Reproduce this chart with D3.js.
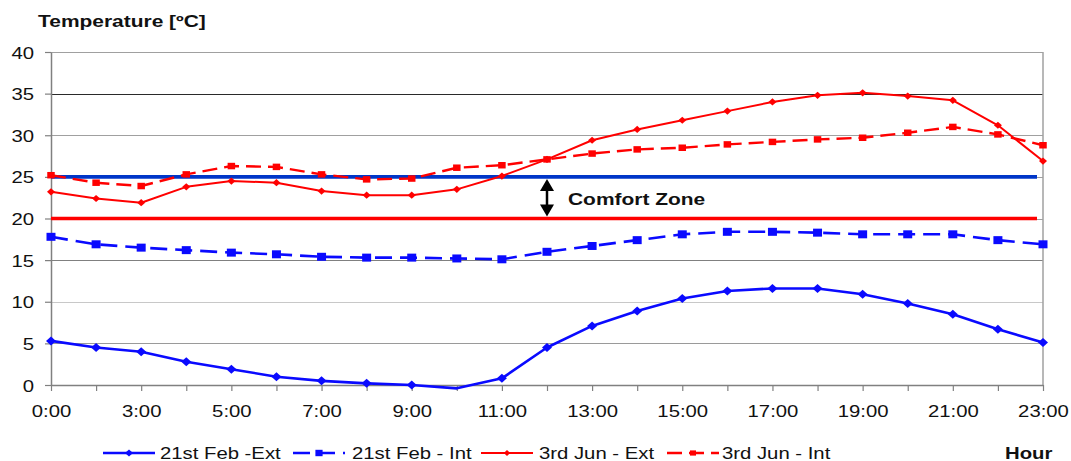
<!DOCTYPE html>
<html>
<head>
<meta charset="utf-8">
<script src="https://cdn.jsdelivr.net/npm/d3@7"></script>
<style>
  html, body { margin: 0; padding: 0; background: #fff; }
  svg { display: block; font-family: "Liberation Sans", Arial, sans-serif; }
</style>
</head>
<body>
<script>
// ---------- data ----------
const categories = ["0:00","2:00","3:00","4:00","5:00","6:00","7:00","8:00","9:00","10:00","11:00","12:00",
                    "13:00","14:00","15:00","16:00","17:00","18:00","19:00","20:00","21:00","22:00","23:00"];
const xTickLabels = ["0:00","3:00","5:00","7:00","9:00","11:00","13:00","15:00","17:00","19:00","21:00","23:00"];
const yTicks = [0,5,10,15,20,25,30,35,40];

const febExt = [5.3,4.5,4.0,2.8,1.9,1.0,0.5,0.2,0.0,-0.4,0.8,4.5,7.1,8.9,10.4,11.3,11.6,11.6,10.9,9.8,8.5,6.7,5.1];
const febInt = [17.8,16.9,16.5,16.2,15.9,15.7,15.4,15.3,15.3,15.2,15.1,16.0,16.7,17.4,18.1,18.4,18.4,18.3,18.1,18.1,18.1,17.4,16.9];
const junExt = [23.2,22.4,21.9,23.8,24.5,24.3,23.3,22.8,22.8,23.5,25.1,27.1,29.4,30.7,31.8,32.9,34.0,34.8,35.1,34.7,34.2,31.2,26.9];
const junInt = [25.2,24.3,23.9,25.3,26.3,26.2,25.3,24.7,24.8,26.1,26.4,27.1,27.8,28.3,28.5,28.9,29.2,29.5,29.7,30.3,31.0,30.1,28.8];

const comfortUpper = 25;
const comfortLower = 20;
const comfortArrowAt = "12:00";

const seriesNames = ["21st Feb -Ext","21st Feb - Int","3rd Jun - Ext","3rd Jun - Int"];

// ---------- layout ----------
const W = 1071, H = 461;
const pLeft = 51, pRight = 1043, pTop = 52, pBottom = 385;
const SX = 1.27; // horizontal stretch of the text in the reference

const svg = d3.select("body").append("svg").attr("width", W).attr("height", H);

const x = d3.scalePoint().domain(categories).range([pLeft, pRight]).padding(0);
const y = d3.scaleLinear().domain([0, 40]).range([pBottom, pTop]);

const styles = [
  {data: febExt, color: "#0a0aff", width: 2.6, dash: null,   marker: "diamond", mw: 5, mh: 4.5},
  {data: febInt, color: "#0a0aff", width: 2.6, dash: "17,8", marker: "square",  mw: 9, mh: 8},
  {data: junExt, color: "#ff0000", width: 2,   dash: null,   marker: "diamond", mw: 4, mh: 3.6},
  {data: junInt, color: "#ff0000", width: 2.4, dash: "15,7", marker: "square",  mw: 7.5, mh: 6.5}
];

function markerPath(type, w, h) {
  if (type === "diamond") return `M0,${-h}L${w},0L0,${h}L${-w},0Z`;
  return `M${-w/2},${-h/2}h${w}v${h}h${-w}Z`;
}

function stretchedText(sel, tx, ty) {
  sel.attr("transform", `translate(${tx},${ty}) scale(${SX},1)`);
}

// ---------- gridlines ----------
const gridColor = {5:"#9a9a9a",10:"#c8c8c8",15:"#808080",20:"#a0a0a0",25:"#a0a0a0",30:"#a0a0a0",35:"#2a2a2a",40:"#a0a0a0"};
svg.append("g").selectAll("line").data(yTicks.filter(v => v > 0)).join("line")
  .attr("x1", pLeft).attr("x2", pRight)
  .attr("y1", d => Math.round(y(d)) + 0.5).attr("y2", d => Math.round(y(d)) + 0.5)
  .attr("stroke", d => gridColor[d]).attr("stroke-width", 1.2);

// right border
svg.append("line").attr("x1", pRight).attr("x2", pRight).attr("y1", y(40)).attr("y2", y(0))
  .attr("stroke", "#a0a0a0").attr("stroke-width", 1.5);

// ---------- axes ----------
const yAxis = svg.append("g").attr("transform", `translate(${pLeft},0)`)
  .call(d3.axisLeft(y).tickValues(yTicks).tickSize(6).tickSizeOuter(0));
yAxis.select(".domain").attr("stroke", "#808080").attr("stroke-width", 1.5);
yAxis.selectAll(".tick line").attr("stroke", "#808080").attr("stroke-width", 1.2);
yAxis.selectAll(".tick text")
  .attr("x", null).attr("dy", null)
  .attr("font-size", 16).attr("fill", "#111").attr("text-anchor", "end")
  .each(function() { stretchedText(d3.select(this), -17, 6); });

const xAxis = svg.append("g").attr("transform", `translate(0,${pBottom})`)
  .call(d3.axisBottom(x).tickSize(6).tickSizeOuter(0)
    .tickFormat(d => xTickLabels.includes(d) ? d : ""));
xAxis.select(".domain").attr("stroke", "#808080").attr("stroke-width", 1.5);
xAxis.selectAll(".tick line").attr("stroke", "#808080").attr("stroke-width", 1.2);
xAxis.selectAll(".tick text")
  .attr("y", null).attr("dy", null)
  .attr("font-size", 16).attr("fill", "#111").attr("text-anchor", "middle")
  .each(function() { stretchedText(d3.select(this), 0, 32); });
svg.selectAll(".domain").attr("fill", "none");

// ---------- comfort zone ----------
const comfortEnd = x(categories[categories.length - 1]) - 6;
svg.append("line").attr("x1", pLeft).attr("x2", comfortEnd)
  .attr("y1", y(comfortUpper)).attr("y2", y(comfortUpper))
  .attr("stroke", "#0036c8").attr("stroke-width", 3.6);
svg.append("line").attr("x1", pLeft).attr("x2", comfortEnd)
  .attr("y1", y(comfortLower)).attr("y2", y(comfortLower))
  .attr("stroke", "#ff0000").attr("stroke-width", 3.6);

const ax = x(comfortArrowAt);
const aTop = y(comfortUpper) + 2, aBot = y(comfortLower) - 2;
const arrow = svg.append("g");
arrow.append("line").attr("x1", ax).attr("x2", ax).attr("y1", aTop + 8).attr("y2", aBot - 8)
  .attr("stroke", "#000").attr("stroke-width", 2.5);
arrow.append("path").attr("d", `M${ax},${aTop}L${ax+7},${aTop+12}L${ax-7},${aTop+12}Z`).attr("fill", "#000");
arrow.append("path").attr("d", `M${ax},${aBot}L${ax+7},${aBot-12}L${ax-7},${aBot-12}Z`).attr("fill", "#000");
svg.append("text").text("Comfort Zone")
  .attr("font-size", 16.5).attr("font-weight", "bold").attr("fill", "#111")
  .call(stretchedText, ax + 21, (y(comfortUpper) + y(comfortLower)) / 2 + 7);

// ---------- series ----------
const line = d3.line().x((d, i) => x(categories[i])).y(d => y(d));
styles.forEach(s => {
  svg.append("path").attr("d", line(s.data))
    .attr("fill", "none").attr("stroke", s.color).attr("stroke-width", s.width)
    .attr("stroke-dasharray", s.dash).attr("stroke-linejoin", "round");
  svg.append("g").selectAll("path").data(s.data.map((v, i) => ({v, i})).filter(d => d.v >= 0)).join("path")
    .attr("d", markerPath(s.marker, s.mw, s.mh))
    .attr("transform", d => `translate(${x(categories[d.i])},${y(d.v)})`)
    .attr("fill", s.color);
});

// ---------- titles ----------
svg.append("text").text("Temperature [ºC]")
  .attr("font-size", 16.5).attr("font-weight", "bold").attr("fill", "#111")
  .call(stretchedText, 38, 27);
svg.append("text").text("Hour")
  .attr("font-size", 16).attr("font-weight", "bold").attr("fill", "#111")
  .call(stretchedText, 1005, 459);

// ---------- legend ----------
const legendStart = [103, 293, 481, 667];
const legendText  = [160, 352, 539, 722];
const ly = 453;
styles.forEach((s, i) => {
  const g = svg.append("g");
  const x0 = legendStart[i], x1 = x0 + 52;
  g.append("line").attr("x1", x0).attr("x2", x1).attr("y1", ly).attr("y2", ly)
    .attr("stroke", s.color).attr("stroke-width", s.width).attr("stroke-dasharray", s.dash);
  g.append("path").attr("d", markerPath(s.marker, s.mw * 0.8, s.mh * 0.8))
    .attr("transform", `translate(${(x0 + x1) / 2},${ly})`).attr("fill", s.color);
  g.append("text").text(seriesNames[i])
    .attr("font-size", 16).attr("fill", "#111")
    .call(stretchedText, legendText[i], ly + 5.5);
});
</script>
</body>
</html>
